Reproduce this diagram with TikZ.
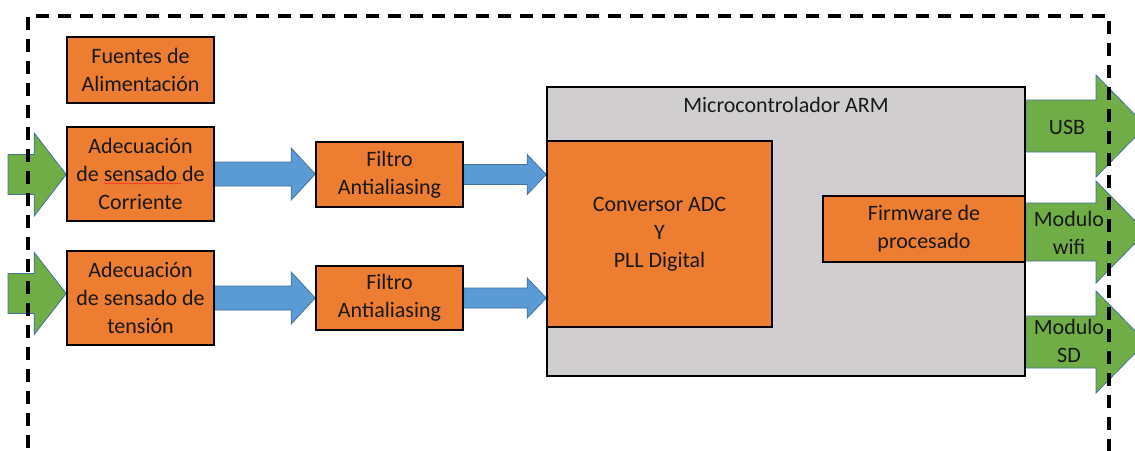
\documentclass[tikz,border=0pt]{standalone}
\usepackage{fontspec}
\setmainfont{Carlito}
\usetikzlibrary{calc,decorations.pathmorphing}
\definecolor{orangeB}{HTML}{ED7D31}
\definecolor{blueA}{HTML}{5B9BD5}
\definecolor{blueE}{HTML}{41719C}
\definecolor{greenA}{HTML}{70AD47}
\definecolor{grayM}{HTML}{D0CECE}
\pgfdeclarelayer{bg}
\pgfsetlayers{bg,main}
% #1 style, #2 start, #3 end (tip x), #4 shaft half width, #5 head half width, #6 head length
\newcommand{\blockarrow}[6]{%
  \path[#1] let \p1=(#2), \p2=(#3) in
   (\x1,\y1+#4) -- (\x2-#6,\y1+#4) -- (\x2-#6,\y1+#5) -- (\x2,\y1)
   -- (\x2-#6,\y1-#5) -- (\x2-#6,\y1-#4) -- (\x1,\y1-#4) -- cycle;}
\begin{document}
\begin{tikzpicture}[x=1pt,y=-1pt,
  txt/.style={font=\fontsize{22}{28}\selectfont,text=black!90,align=center,inner sep=0pt},
  box/.style={txt,draw=black,line width=1.6pt,fill=orangeB},
  barrowstyle/.style={fill=blueA,draw=blueE,line width=0.8pt},
  garrowstyle/.style={fill=greenA,draw=blueE,line width=0.8pt},
  border/.style={draw=black,line width=3.4pt,dash pattern=on 13pt off 9pt}]
\useasboundingbox (0,0) rectangle (1135,450);
\begin{pgfonlayer}{bg}
  \fill[white] (0,0) rectangle (1135,450);
\end{pgfonlayer}

% boxes
\node[box,minimum width=147pt,minimum height=66pt] (fuentes) at (140.5,70) {Fuentes de\\Alimentación};
\node[box,minimum width=147pt,minimum height=94pt] (acI) at (140.5,174) {Adecuación\\de sensado de\\Corriente};
\node[box,minimum width=147pt,minimum height=94pt] (acV) at (140.5,298) {Adecuación\\de sensado de\\tensión};
\node[box,minimum width=147pt,minimum height=65pt] (f1) at (389.5,174.5) {Filtro\\Antialiasing};
\node[box,minimum width=147pt,minimum height=64pt] (f2) at (389.5,298) {Filtro\\Antialiasing};
\node[box,fill=grayM,minimum width=478pt,minimum height=289pt] (mcu) at (786,231.5) {};
\node[txt] (mcul) at (786,105) {Microcontrolador ARM};
\node[box,minimum width=225pt,minimum height=186pt] (adc) at (659.5,234) {Conversor ADC\\Y\\PLL Digital};
\node[box,minimum width=202pt,minimum height=66pt] (fw) at (924,229) {Firmware de\\procesado};

% spell-check squiggle
\draw[red!85!white,line width=0.5pt,decorate,decoration={snake,amplitude=0.5pt,segment length=2.5pt}] (104,183.5) -- (181,183.5);

% free ends
\coordinate (in1) at (8,174.5);
\coordinate (in2) at (8,293.5);
\coordinate (o1) at (1146,126);
\coordinate (o2) at (1146,232);
\coordinate (o3) at (1146,342);

\begin{pgfonlayer}{bg}
  \blockarrow{garrowstyle}{in1}{acI.west}{20pt}{41.5pt}{32pt}
  \blockarrow{garrowstyle}{in2}{acV.west}{20pt}{41pt}{32pt}
  \blockarrow{barrowstyle}{acI.east}{f1.west}{12pt}{26pt}{24pt}
  \blockarrow{barrowstyle}{acV.east}{f2.west}{12pt}{26pt}{24pt}
  \blockarrow{barrowstyle}{f1.east}{adc.west}{10pt}{20pt}{19pt}
  \blockarrow{barrowstyle}{f2.east}{adc.west}{10pt}{20pt}{19pt}
  \blockarrow{barrowstyle}{adc.east |- fw.west}{fw.west}{14pt}{26.5pt}{25pt}
  \blockarrow{garrowstyle}{mcu.east |- o1}{o1}{26pt}{51pt}{50pt}
  \blockarrow{garrowstyle}{mcu.east |- o2}{o2}{29pt}{51pt}{50pt}
  \blockarrow{garrowstyle}{mcu.east |- o3}{o3}{26pt}{51pt}{50pt}
\end{pgfonlayer}

% labels on output arrows
\node[txt] (usb) at (1067,127) {USB};
\node[txt] (wifi) at (1069,233) {Modulo\\wifi};
\node[txt] (sd) at (1069,341) {Modulo\\SD};

% dashed enclosure
\draw[border] (28,470) -- (28,16) -- (1109,16) -- (1109,470);
\end{tikzpicture}
\end{document}
